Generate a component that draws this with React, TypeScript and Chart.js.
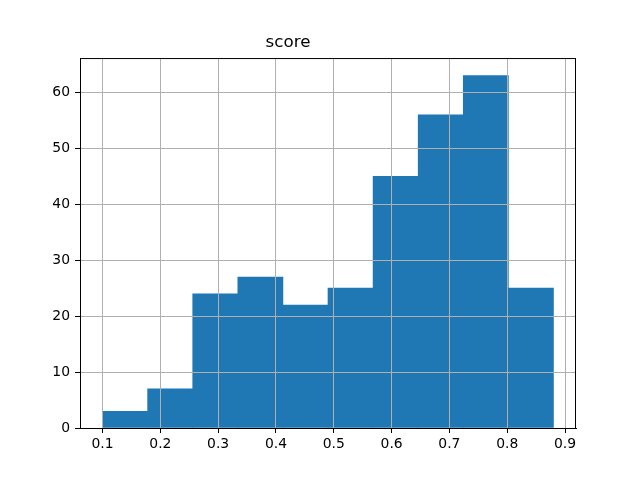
import React, { useEffect, useRef } from "react";
import { Chart, registerables } from "chart.js";

Chart.register(...registerables);

const chartTitle = "score";
const binEdges = [0.1, 0.178, 0.256, 0.334, 0.412, 0.49, 0.568, 0.646, 0.724, 0.802, 0.88];
const counts = [3, 7, 24, 27, 22, 25, 45, 56, 63, 25];
const xTicks = [0.1, 0.2, 0.3, 0.4, 0.5, 0.6, 0.7, 0.8, 0.9];
const yTicks = [0, 10, 20, 30, 40, 50, 60];

const FONT = "'DejaVu Sans', sans-serif";

export default function App() {
  const ref = useRef<HTMLCanvasElement | null>(null);

  useEffect(() => {
    if (!ref.current) return;
    const span = binEdges[binEdges.length - 1] - binEdges[0];
    const xMin = binEdges[0] - span * 0.05;
    const xMax = binEdges[binEdges.length - 1] + span * 0.05;
    const yMax = Math.max(...counts) * 1.05;
    const data = counts.map((c, i) => ({ x: (binEdges[i] + binEdges[i + 1]) / 2, y: c }));

    const frame = {
      id: "frame",
      afterDraw(chart: any) {
        const { ctx, chartArea } = chart;
        ctx.save();
        ctx.strokeStyle = "#000";
        ctx.lineWidth = 1;
        ctx.strokeRect(chartArea.left + 0.5, chartArea.top + 0.5, chartArea.right - chartArea.left - 1, chartArea.bottom - chartArea.top);
        ctx.restore();
      },
    };

    const chart = new Chart(ref.current, {
      type: "bar",
      data: {
        datasets: [
          {
            data,
            backgroundColor: "#1f77b4",
            borderWidth: 0,
            barPercentage: 1,
            categoryPercentage: 1,
          },
        ],
      },
      options: {
        animation: false,
        responsive: false,
        maintainAspectRatio: false,
        layout: { padding: { left: 0, right: 64, top: 0, bottom: 0 } },
        plugins: {
          legend: { display: false },
          tooltip: { enabled: false },
          title: {
            display: true,
            text: chartTitle,
            color: "#000",
            font: { family: FONT, size: 16.7, weight: "normal" },
            padding: { top: 33, bottom: 5 },
          },
        },
        scales: {
          x: {
            type: "linear",
            min: xMin,
            max: xMax,
            offset: false,
            afterBuildTicks: (s: any) => {
              s.ticks = xTicks.map((v) => ({ value: v }));
            },
            afterFit: (s: any) => {
              s.height = 52;
            },
            grid: {
              offset: false,
              z: 1,
              color: "#b0b0b0",
              lineWidth: 1,
              tickColor: "#000",
              tickLength: 5,
            },
            border: { display: true, color: "#000", width: 1, z: 2 },
            ticks: {
              color: "#000",
              font: { family: FONT, size: 13.9 },
              padding: 3,
              maxRotation: 0,
              autoSkip: false,
              callback: (v: any) => String(Math.round(Number(v) * 10) / 10),
            },
          },
          y: {
            type: "linear",
            min: 0,
            max: yMax,
            afterBuildTicks: (s: any) => {
              s.ticks = yTicks.map((v) => ({ value: v }));
            },
            afterFit: (s: any) => {
              s.width = 80;
            },
            grid: {
              z: 1,
              color: "#b0b0b0",
              lineWidth: 1,
              tickColor: "#000",
              tickLength: 5,
            },
            border: { display: true, color: "#000", width: 1, z: 2 },
            ticks: {
              color: "#000",
              font: { family: FONT, size: 13.9 },
              padding: 5,
              autoSkip: false,
              callback: (v: any) => String(v),
            },
          },
        },
      },
      plugins: [frame],
    } as any);
    return () => chart.destroy();
  }, []);

  return (
    <div style={{ position: "fixed", left: 0, top: 0, width: 640, height: 480, background: "#fff" }}>
      <canvas ref={ref} width={640} height={480} style={{ width: 640, height: 480 }} />
    </div>
  );
}
